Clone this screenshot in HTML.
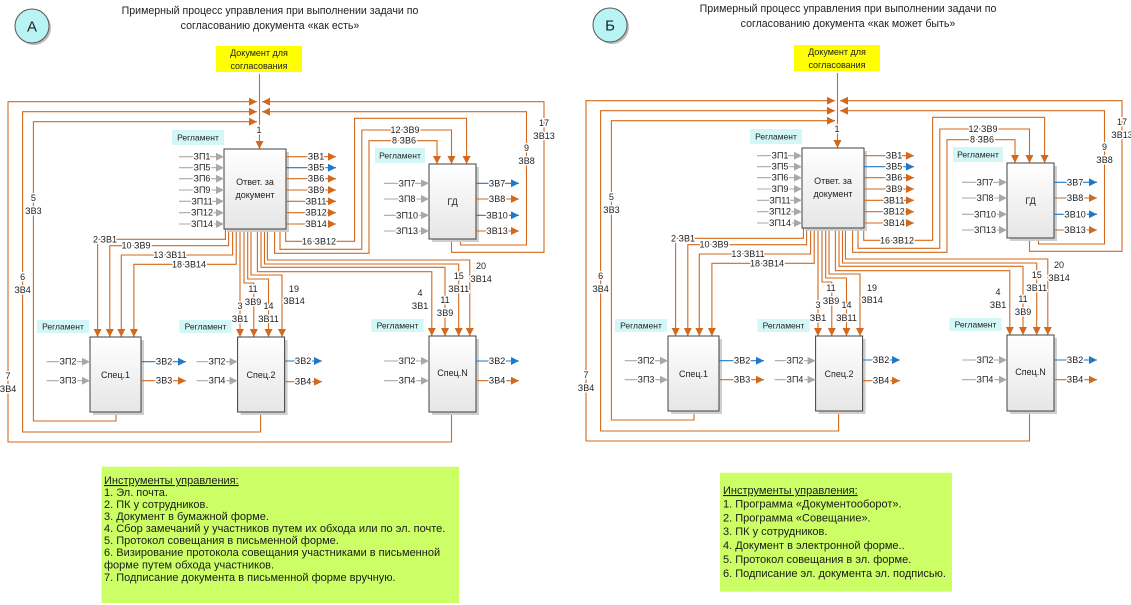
<!DOCTYPE html>
<html><head><meta charset="utf-8">
<style>
html,body{margin:0;padding:0;background:#fff;}
svg{display:block;font-family:"Liberation Sans",sans-serif;}
.o{fill:none;stroke:#d2691e;stroke-width:1.1;}
.b{fill:none;stroke:#1f78c8;stroke-width:1.1;}
.g{fill:none;stroke:#a8a8a8;stroke-width:1.1;}
.l{font-size:9px;fill:#222;text-anchor:middle;dominant-baseline:central;paint-order:stroke;stroke:#fff;stroke-width:3px;stroke-linejoin:round;}
.t{font-size:9.5px;fill:#222;text-anchor:middle;dominant-baseline:central;}
.tt{font-size:10.6px;fill:#222;text-anchor:middle;dominant-baseline:central;}
.bx{fill:url(#gr);stroke:#404040;stroke-width:1;}
.sh{fill:#cfcfcf;}
.rg{fill:#d3f6f6;}
.gt{font-size:11px;fill:#1a1a1a;}
</style></head><body>
<svg width="1131" height="605" viewBox="0 0 1131 605" xmlns="http://www.w3.org/2000/svg">
<defs>
<linearGradient id="gr" x1="0" y1="0" x2="0" y2="1"><stop offset="0" stop-color="#ffffff"/><stop offset="1" stop-color="#e6e6e6"/></linearGradient>
<marker id="ao" markerWidth="8" markerHeight="8" refX="8" refY="4" orient="auto" markerUnits="userSpaceOnUse"><path d="M0,0L8,4L0,8z" fill="#d2691e"/></marker>
<marker id="ab" markerWidth="8" markerHeight="8" refX="8" refY="4" orient="auto" markerUnits="userSpaceOnUse"><path d="M0,0L8,4L0,8z" fill="#1f78c8"/></marker>
<marker id="ag" markerWidth="8" markerHeight="8" refX="8" refY="4" orient="auto" markerUnits="userSpaceOnUse"><path d="M0,0L8,4L0,8z" fill="#a8a8a8"/></marker>
</defs>

<text x="270" y="11" class="tt">Примерный процесс управления при выполнении задачи по</text>
<text x="270" y="26" class="tt">согласованию документа «как есть»</text>
<text x="848" y="9" class="tt">Примерный процесс управления при выполнении задачи по</text>
<text x="848" y="24" class="tt">согласованию документа «как может быть»</text>

<!-- LEFT DIAGRAM -->
<g>
<circle cx="34" cy="28" r="17" fill="#bbb"/>
<circle cx="32" cy="26" r="17" fill="#b9f4f4" stroke="#555"/>
<text x="32" y="27" class="t" style="font-size:15px">А</text>
<rect x="216" y="46" width="86" height="26" fill="#ffff00"/>
<text x="259" y="53" class="t" style="font-size:9px">Документ для</text>
<text x="259" y="66" class="t" style="font-size:9px">согласования</text>

<path class="o" d="M259.5,74V149" marker-end="url(#ao)"/>
<text x="259" y="130" class="l">1</text>
<path class="o" d="M451.5,412V442H8V101.7H257" marker-end="url(#ao)"/>
<path class="o" d="M260.6,412V432H22.6V111.7H257" marker-end="url(#ao)"/>
<path class="o" d="M116,412V421H33.4V121.7H257" marker-end="url(#ao)"/>
<path class="o" d="M460.5,239V245H526.5V111.7H262" marker-end="url(#ao)"/>
<path class="o" d="M451.5,239V252.3H544V101.7H262" marker-end="url(#ao)"/>
<text x="33.4" y="198" class="l">5</text><text x="33.4" y="211" class="l">ЗВ3</text>
<text x="22.6" y="277" class="l">6</text><text x="22.6" y="290" class="l">ЗВ4</text>
<text x="8" y="376" class="l">7</text><text x="8" y="389" class="l">ЗВ4</text>
<text x="544" y="123" class="l">17</text><text x="544" y="136" class="l">ЗВ13</text>
<text x="526.5" y="148" class="l">9</text><text x="526.5" y="161" class="l">ЗВ8</text>

<path class="o" d="M285.7,229V241.3H354.6V118.3H466.6V164" marker-end="url(#ao)"/>
<path class="o" d="M280,229V249.3H361.8V130H451.5V164" marker-end="url(#ao)"/>
<path class="o" d="M274.6,229V253.3H369V140.7H437V164" marker-end="url(#ao)"/>
<text x="319" y="241.3" class="l">16 ЗВ12</text>
<text x="405" y="130" class="l">12 ЗВ9</text>
<text x="404" y="140.7" class="l">8 ЗВ6</text>

<path class="o" d="M225.4,229V239.3H97.6V337" marker-end="url(#ao)"/>
<path class="o" d="M228.6,229V245.7H109.8V337" marker-end="url(#ao)"/>
<path class="o" d="M232.6,229V255H121.3V337" marker-end="url(#ao)"/>
<path class="o" d="M236.2,229V264.3H133.9V337" marker-end="url(#ao)"/>
<text x="105" y="239.3" class="l">2 ЗВ1</text>
<text x="136" y="245.7" class="l">10 ЗВ9</text>
<text x="170" y="255" class="l">13 ЗВ11</text>
<text x="189" y="264.3" class="l">18 ЗВ14</text>

<path class="o" d="M240,229V337" marker-end="url(#ao)"/>
<path class="o" d="M244,229V283H253.8V337" marker-end="url(#ao)"/>
<path class="o" d="M247.7,229V279H268.5V337" marker-end="url(#ao)"/>
<path class="o" d="M251,229V275H282V337" marker-end="url(#ao)"/>
<text x="240" y="306" class="l">3</text><text x="240" y="319" class="l">ЗВ1</text>
<text x="253" y="289" class="l">11</text><text x="253" y="302" class="l">ЗВ9</text>
<text x="268.5" y="306" class="l">14</text><text x="268.5" y="319" class="l">ЗВ11</text>
<text x="294" y="289" class="l">19</text><text x="294" y="301" class="l">ЗВ14</text>

<path class="o" d="M257.4,229V271.7H431.8V336" marker-end="url(#ao)"/>
<path class="o" d="M261,229V267.3H445V336" marker-end="url(#ao)"/>
<path class="o" d="M264.5,229V264H458.7V336" marker-end="url(#ao)"/>
<path class="o" d="M267.4,229V260H469.8V336" marker-end="url(#ao)"/>
<text x="420" y="293" class="l">4</text><text x="420" y="306" class="l">ЗВ1</text>
<text x="445" y="300" class="l">11</text><text x="445" y="313" class="l">ЗВ9</text>
<text x="458.7" y="276" class="l">15</text><text x="458.7" y="289" class="l">ЗВ11</text>
<text x="481" y="266" class="l">20</text><text x="481" y="279" class="l">ЗВ14</text>

<rect x="227" y="152" width="62" height="80" class="sh"/>
<rect x="224" y="149" width="62" height="80" class="bx"/>
<text x="255" y="182" class="t" style="font-size:9px">Ответ. за</text>
<text x="255" y="195" class="t" style="font-size:9px">документ</text>
<rect x="432" y="167" width="47" height="75" class="sh"/>
<rect x="429" y="164" width="47" height="75" class="bx"/>
<text x="452.5" y="202" class="t" style="font-size:9px">ГД</text>
<rect x="93" y="340" width="51" height="75" class="sh"/>
<rect x="90" y="337" width="51" height="75" class="bx"/>
<text x="115.5" y="375" class="t" style="font-size:9px">Спец.1</text>
<rect x="240.6" y="340" width="47" height="75" class="sh"/>
<rect x="237.6" y="337" width="47" height="75" class="bx"/>
<text x="261" y="375" class="t" style="font-size:9px">Спец.2</text>
<rect x="432" y="339" width="47" height="76" class="sh"/>
<rect x="429" y="336" width="47" height="76" class="bx"/>
<text x="452.5" y="373" class="t" style="font-size:9px">Спец.N</text>

<rect x="172" y="130" width="52" height="15" class="rg"/><text x="198" y="137.5" class="t" style="font-size:8.5px">Регламент</text>
<rect x="375" y="148" width="50" height="15" class="rg"/><text x="400" y="155.5" class="t" style="font-size:8.5px">Регламент</text>
<rect x="37" y="320" width="52" height="13" class="rg"/><text x="63" y="326.5" class="t" style="font-size:8.5px">Регламент</text>
<rect x="179.5" y="320" width="52" height="13" class="rg"/><text x="205.5" y="326.5" class="t" style="font-size:8.5px">Регламент</text>
<rect x="371.5" y="319" width="52" height="13" class="rg"/><text x="397.5" y="325.5" class="t" style="font-size:8.5px">Регламент</text>

<path class="g" d="M179,156.7H224" marker-end="url(#ag)"/><text x="202" y="156.7" class="l">ЗП1</text>
<path class="g" d="M179,167.7H224" marker-end="url(#ag)"/><text x="202" y="167.7" class="l">ЗП5</text>
<path class="g" d="M179,178.7H224" marker-end="url(#ag)"/><text x="202" y="178.7" class="l">ЗП6</text>
<path class="g" d="M179,190H224" marker-end="url(#ag)"/><text x="202" y="190" class="l">ЗП9</text>
<path class="g" d="M179,201.3H224" marker-end="url(#ag)"/><text x="202" y="201.3" class="l">ЗП11</text>
<path class="g" d="M179,212.7H224" marker-end="url(#ag)"/><text x="202" y="212.7" class="l">ЗП12</text>
<path class="g" d="M179,224H224" marker-end="url(#ag)"/><text x="202" y="224" class="l">ЗП14</text>
<path class="o" d="M286,156.7H336" marker-end="url(#ao)"/><text x="316" y="156.7" class="l">ЗВ1</text>
<path class="b" d="M286,167.7H336" marker-end="url(#ab)"/><text x="316" y="167.7" class="l">ЗВ5</text>
<path class="o" d="M286,178.7H336" marker-end="url(#ao)"/><text x="316" y="178.7" class="l">ЗВ6</text>
<path class="o" d="M286,190H336" marker-end="url(#ao)"/><text x="316" y="190" class="l">ЗВ9</text>
<path class="o" d="M286,201.3H336" marker-end="url(#ao)"/><text x="316" y="201.3" class="l">ЗВ11</text>
<path class="o" d="M286,212.7H336" marker-end="url(#ao)"/><text x="316" y="212.7" class="l">ЗВ12</text>
<path class="o" d="M286,224H336" marker-end="url(#ao)"/><text x="316" y="224" class="l">ЗВ14</text>

<path class="g" d="M384,183.3H429" marker-end="url(#ag)"/><text x="407" y="183.3" class="l">ЗП7</text>
<path class="g" d="M384,199H429" marker-end="url(#ag)"/><text x="407" y="199" class="l">ЗП8</text>
<path class="g" d="M384,215.3H429" marker-end="url(#ag)"/><text x="407" y="215.3" class="l">ЗП10</text>
<path class="g" d="M384,231H429" marker-end="url(#ag)"/><text x="407" y="231" class="l">ЗП13</text>
<path class="b" d="M476,183.3H519" marker-end="url(#ab)"/><text x="497" y="183.3" class="l">ЗВ7</text>
<path class="o" d="M476,199H519" marker-end="url(#ao)"/><text x="497" y="199" class="l">ЗВ8</text>
<path class="b" d="M476,215.3H519" marker-end="url(#ab)"/><text x="497" y="215.3" class="l">ЗВ10</text>
<path class="o" d="M476,231H519" marker-end="url(#ao)"/><text x="497" y="231" class="l">ЗВ13</text>

<path class="g" d="M46.7,361.7H90" marker-end="url(#ag)"/><text x="68" y="361.7" class="l">ЗП2</text>
<path class="g" d="M46.7,380.7H90" marker-end="url(#ag)"/><text x="68" y="380.7" class="l">ЗП3</text>
<path class="b" d="M141,361.7H186" marker-end="url(#ab)"/><text x="164" y="361.7" class="l">ЗВ2</text>
<path class="o" d="M141,380.7H186" marker-end="url(#ao)"/><text x="164" y="380.7" class="l">ЗВ3</text>
<path class="g" d="M196.7,361.7H237.6" marker-end="url(#ag)"/><text x="217" y="361.7" class="l">ЗП2</text>
<path class="g" d="M196.7,380.7H237.6" marker-end="url(#ag)"/><text x="217" y="380.7" class="l">ЗП4</text>
<path class="b" d="M284.6,361H322" marker-end="url(#ab)"/><text x="303" y="361" class="l">ЗВ2</text>
<path class="o" d="M284.6,381.7H322" marker-end="url(#ao)"/><text x="303" y="381.7" class="l">ЗВ4</text>
<path class="g" d="M384,361H429" marker-end="url(#ag)"/><text x="407" y="361" class="l">ЗП2</text>
<path class="g" d="M384,380.7H429" marker-end="url(#ag)"/><text x="407" y="380.7" class="l">ЗП4</text>
<path class="b" d="M476,361H519" marker-end="url(#ab)"/><text x="497" y="361" class="l">ЗВ2</text>
<path class="o" d="M476,380.7H519" marker-end="url(#ao)"/><text x="497" y="380.7" class="l">ЗВ4</text>
</g>

<!-- RIGHT DIAGRAM -->
<g transform="translate(578,-1)">
<circle cx="34" cy="28" r="17" fill="#bbb"/>
<circle cx="32" cy="26" r="17" fill="#b9f4f4" stroke="#555"/>
<text x="32" y="27" class="t" style="font-size:15px">Б</text>
<rect x="216" y="46" width="86" height="26" fill="#ffff00"/>
<text x="259" y="53" class="t" style="font-size:9px">Документ для</text>
<text x="259" y="66" class="t" style="font-size:9px">согласования</text>

<path class="o" d="M259.5,74V149" marker-end="url(#ao)"/>
<text x="259" y="130" class="l">1</text>
<path class="o" d="M451.5,412V442H8V101.7H257" marker-end="url(#ao)"/>
<path class="o" d="M260.6,412V432H22.6V111.7H257" marker-end="url(#ao)"/>
<path class="o" d="M116,412V421H33.4V121.7H257" marker-end="url(#ao)"/>
<path class="o" d="M460.5,239V245H526.5V111.7H262" marker-end="url(#ao)"/>
<path class="o" d="M451.5,239V252.3H544V101.7H262" marker-end="url(#ao)"/>
<text x="33.4" y="198" class="l">5</text><text x="33.4" y="211" class="l">ЗВ3</text>
<text x="22.6" y="277" class="l">6</text><text x="22.6" y="290" class="l">ЗВ4</text>
<text x="8" y="376" class="l">7</text><text x="8" y="389" class="l">ЗВ4</text>
<text x="544" y="123" class="l">17</text><text x="544" y="136" class="l">ЗВ13</text>
<text x="526.5" y="148" class="l">9</text><text x="526.5" y="161" class="l">ЗВ8</text>

<path class="o" d="M285.7,229V241.3H354.6V118.3H466.6V164" marker-end="url(#ao)"/>
<path class="o" d="M280,229V249.3H361.8V130H451.5V164" marker-end="url(#ao)"/>
<path class="o" d="M274.6,229V253.3H369V140.7H437V164" marker-end="url(#ao)"/>
<text x="319" y="241.3" class="l">16 ЗВ12</text>
<text x="405" y="130" class="l">12 ЗВ9</text>
<text x="404" y="140.7" class="l">8 ЗВ6</text>

<path class="o" d="M225.4,229V239.3H97.6V337" marker-end="url(#ao)"/>
<path class="o" d="M228.6,229V245.7H109.8V337" marker-end="url(#ao)"/>
<path class="o" d="M232.6,229V255H121.3V337" marker-end="url(#ao)"/>
<path class="o" d="M236.2,229V264.3H133.9V337" marker-end="url(#ao)"/>
<text x="105" y="239.3" class="l">2 ЗВ1</text>
<text x="136" y="245.7" class="l">10 ЗВ9</text>
<text x="170" y="255" class="l">13 ЗВ11</text>
<text x="189" y="264.3" class="l">18 ЗВ14</text>

<path class="o" d="M240,229V337" marker-end="url(#ao)"/>
<path class="o" d="M244,229V283H253.8V337" marker-end="url(#ao)"/>
<path class="o" d="M247.7,229V279H268.5V337" marker-end="url(#ao)"/>
<path class="o" d="M251,229V275H282V337" marker-end="url(#ao)"/>
<text x="240" y="306" class="l">3</text><text x="240" y="319" class="l">ЗВ1</text>
<text x="253" y="289" class="l">11</text><text x="253" y="302" class="l">ЗВ9</text>
<text x="268.5" y="306" class="l">14</text><text x="268.5" y="319" class="l">ЗВ11</text>
<text x="294" y="289" class="l">19</text><text x="294" y="301" class="l">ЗВ14</text>

<path class="o" d="M257.4,229V271.7H431.8V336" marker-end="url(#ao)"/>
<path class="o" d="M261,229V267.3H445V336" marker-end="url(#ao)"/>
<path class="o" d="M264.5,229V264H458.7V336" marker-end="url(#ao)"/>
<path class="o" d="M267.4,229V260H469.8V336" marker-end="url(#ao)"/>
<text x="420" y="293" class="l">4</text><text x="420" y="306" class="l">ЗВ1</text>
<text x="445" y="300" class="l">11</text><text x="445" y="313" class="l">ЗВ9</text>
<text x="458.7" y="276" class="l">15</text><text x="458.7" y="289" class="l">ЗВ11</text>
<text x="481" y="266" class="l">20</text><text x="481" y="279" class="l">ЗВ14</text>

<rect x="227" y="152" width="62" height="80" class="sh"/>
<rect x="224" y="149" width="62" height="80" class="bx"/>
<text x="255" y="182" class="t" style="font-size:9px">Ответ. за</text>
<text x="255" y="195" class="t" style="font-size:9px">документ</text>
<rect x="432" y="167" width="47" height="75" class="sh"/>
<rect x="429" y="164" width="47" height="75" class="bx"/>
<text x="452.5" y="202" class="t" style="font-size:9px">ГД</text>
<rect x="93" y="340" width="51" height="75" class="sh"/>
<rect x="90" y="337" width="51" height="75" class="bx"/>
<text x="115.5" y="375" class="t" style="font-size:9px">Спец.1</text>
<rect x="240.6" y="340" width="47" height="75" class="sh"/>
<rect x="237.6" y="337" width="47" height="75" class="bx"/>
<text x="261" y="375" class="t" style="font-size:9px">Спец.2</text>
<rect x="432" y="339" width="47" height="76" class="sh"/>
<rect x="429" y="336" width="47" height="76" class="bx"/>
<text x="452.5" y="373" class="t" style="font-size:9px">Спец.N</text>

<rect x="172" y="130" width="52" height="15" class="rg"/><text x="198" y="137.5" class="t" style="font-size:8.5px">Регламент</text>
<rect x="375" y="148" width="50" height="15" class="rg"/><text x="400" y="155.5" class="t" style="font-size:8.5px">Регламент</text>
<rect x="37" y="320" width="52" height="13" class="rg"/><text x="63" y="326.5" class="t" style="font-size:8.5px">Регламент</text>
<rect x="179.5" y="320" width="52" height="13" class="rg"/><text x="205.5" y="326.5" class="t" style="font-size:8.5px">Регламент</text>
<rect x="371.5" y="319" width="52" height="13" class="rg"/><text x="397.5" y="325.5" class="t" style="font-size:8.5px">Регламент</text>

<path class="g" d="M179,156.7H224" marker-end="url(#ag)"/><text x="202" y="156.7" class="l">ЗП1</text>
<path class="g" d="M179,167.7H224" marker-end="url(#ag)"/><text x="202" y="167.7" class="l">ЗП5</text>
<path class="g" d="M179,178.7H224" marker-end="url(#ag)"/><text x="202" y="178.7" class="l">ЗП6</text>
<path class="g" d="M179,190H224" marker-end="url(#ag)"/><text x="202" y="190" class="l">ЗП9</text>
<path class="g" d="M179,201.3H224" marker-end="url(#ag)"/><text x="202" y="201.3" class="l">ЗП11</text>
<path class="g" d="M179,212.7H224" marker-end="url(#ag)"/><text x="202" y="212.7" class="l">ЗП12</text>
<path class="g" d="M179,224H224" marker-end="url(#ag)"/><text x="202" y="224" class="l">ЗП14</text>
<path class="o" d="M286,156.7H336" marker-end="url(#ao)"/><text x="316" y="156.7" class="l">ЗВ1</text>
<path class="b" d="M286,167.7H336" marker-end="url(#ab)"/><text x="316" y="167.7" class="l">ЗВ5</text>
<path class="o" d="M286,178.7H336" marker-end="url(#ao)"/><text x="316" y="178.7" class="l">ЗВ6</text>
<path class="o" d="M286,190H336" marker-end="url(#ao)"/><text x="316" y="190" class="l">ЗВ9</text>
<path class="o" d="M286,201.3H336" marker-end="url(#ao)"/><text x="316" y="201.3" class="l">ЗВ11</text>
<path class="o" d="M286,212.7H336" marker-end="url(#ao)"/><text x="316" y="212.7" class="l">ЗВ12</text>
<path class="o" d="M286,224H336" marker-end="url(#ao)"/><text x="316" y="224" class="l">ЗВ14</text>

<path class="g" d="M384,183.3H429" marker-end="url(#ag)"/><text x="407" y="183.3" class="l">ЗП7</text>
<path class="g" d="M384,199H429" marker-end="url(#ag)"/><text x="407" y="199" class="l">ЗП8</text>
<path class="g" d="M384,215.3H429" marker-end="url(#ag)"/><text x="407" y="215.3" class="l">ЗП10</text>
<path class="g" d="M384,231H429" marker-end="url(#ag)"/><text x="407" y="231" class="l">ЗП13</text>
<path class="b" d="M476,183.3H519" marker-end="url(#ab)"/><text x="497" y="183.3" class="l">ЗВ7</text>
<path class="o" d="M476,199H519" marker-end="url(#ao)"/><text x="497" y="199" class="l">ЗВ8</text>
<path class="b" d="M476,215.3H519" marker-end="url(#ab)"/><text x="497" y="215.3" class="l">ЗВ10</text>
<path class="o" d="M476,231H519" marker-end="url(#ao)"/><text x="497" y="231" class="l">ЗВ13</text>

<path class="g" d="M46.7,361.7H90" marker-end="url(#ag)"/><text x="68" y="361.7" class="l">ЗП2</text>
<path class="g" d="M46.7,380.7H90" marker-end="url(#ag)"/><text x="68" y="380.7" class="l">ЗП3</text>
<path class="b" d="M141,361.7H186" marker-end="url(#ab)"/><text x="164" y="361.7" class="l">ЗВ2</text>
<path class="o" d="M141,380.7H186" marker-end="url(#ao)"/><text x="164" y="380.7" class="l">ЗВ3</text>
<path class="g" d="M196.7,361.7H237.6" marker-end="url(#ag)"/><text x="217" y="361.7" class="l">ЗП2</text>
<path class="g" d="M196.7,380.7H237.6" marker-end="url(#ag)"/><text x="217" y="380.7" class="l">ЗП4</text>
<path class="b" d="M284.6,361H322" marker-end="url(#ab)"/><text x="303" y="361" class="l">ЗВ2</text>
<path class="o" d="M284.6,381.7H322" marker-end="url(#ao)"/><text x="303" y="381.7" class="l">ЗВ4</text>
<path class="g" d="M384,361H429" marker-end="url(#ag)"/><text x="407" y="361" class="l">ЗП2</text>
<path class="g" d="M384,380.7H429" marker-end="url(#ag)"/><text x="407" y="380.7" class="l">ЗП4</text>
<path class="b" d="M476,361H519" marker-end="url(#ab)"/><text x="497" y="361" class="l">ЗВ2</text>
<path class="o" d="M476,380.7H519" marker-end="url(#ao)"/><text x="497" y="380.7" class="l">ЗВ4</text>
</g>

<!-- Green boxes -->
<rect x="101.7" y="466.7" width="357.3" height="136.3" fill="#ccff66"/>
<g class="gt">
<text x="104" y="484" text-decoration="underline">Инструменты управления:</text>
<text x="104" y="496">1. Эл. почта.</text>
<text x="104" y="508">2. ПК у сотрудников.</text>
<text x="104" y="520">3. Документ в бумажной форме.</text>
<text x="104" y="532">4. Сбор замечаний у участников путем их обхода или по эл. почте.</text>
<text x="104" y="544">5. Протокол совещания в письменной форме.</text>
<text x="104" y="556">6. Визирование протокола совещания участниками в письменной</text>
<text x="104" y="568.5">форме путем обхода участников.</text>
<text x="104" y="581">7. Подписание документа в письменной форме вручную.</text>
</g>
<rect x="720" y="472.7" width="232" height="119" fill="#ccff66"/>
<g class="gt">
<text x="723" y="494" text-decoration="underline">Инструменты управления:</text>
<text x="723" y="507.5">1. Программа «Документооборот».</text>
<text x="723" y="521.5">2. Программа «Совещание».</text>
<text x="723" y="535">3. ПК у сотрудников.</text>
<text x="723" y="549">4. Документ в электронной форме..</text>
<text x="723" y="563">5. Протокол совещания в эл. форме.</text>
<text x="723" y="577">6. Подписание эл. документа эл. подписью.</text>
</g>
</svg>
</body></html>
